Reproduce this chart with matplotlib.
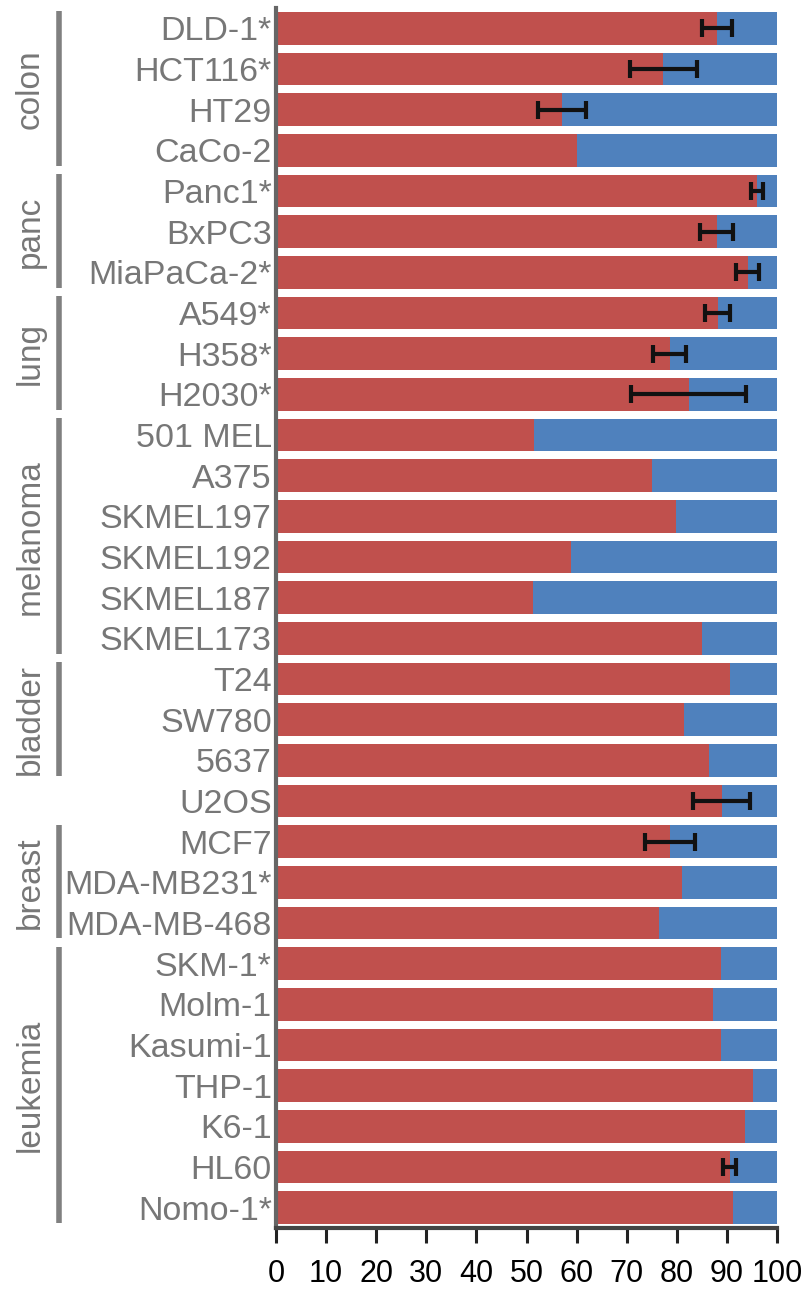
# Stacked horizontal bars: red fraction vs blue remainder per cell line
import matplotlib.pyplot as plt
import matplotlib.transforms as mtransforms

# cell lines, top to bottom
cell_lines = ['DLD-1*', 'HCT116*', 'HT29', 'CaCo-2',
              'Panc1*', 'BxPC3', 'MiaPaCa-2*',
              'A549*', 'H358*', 'H2030*',
              '501 MEL', 'A375', 'SKMEL197', 'SKMEL192', 'SKMEL187', 'SKMEL173',
              'T24', 'SW780', '5637',
              'U2OS',
              'MCF7', 'MDA-MB231*', 'MDA-MB-468',
              'SKM-1*', 'Molm-1', 'Kasumi-1', 'THP-1', 'K6-1', 'HL60', 'Nomo-1*']

# red share (%) for each line, blue is the rest up to 100
red_vals = [88.0, 77.3, 57.0, 60.0,
            96.0, 88.0, 94.2,
            88.2, 78.6, 82.4,
            51.5, 75.0, 79.8, 58.8, 51.3, 85.0,
            90.6, 81.5, 86.4,
            89.0,
            78.6, 81.0, 76.5,
            88.8, 87.3, 88.8, 95.2, 93.6, 90.6, 91.2]

# error bar half widths (0 = no error bar)
err_vals = [3.0, 6.7, 4.8, 0,
            1.2, 3.3, 2.3,
            2.5, 3.3, 11.5,
            0, 0, 0, 0, 0, 0,
            0, 0, 0,
            5.7,
            5.0, 0, 0,
            0, 0, 0, 0, 0, 1.3, 0]

# tissue groups: (label, first row, last row)
groups = [('colon', 0, 3), ('panc', 4, 6), ('lung', 7, 9),
          ('melanoma', 10, 15), ('bladder', 16, 18),
          ('breast', 20, 22), ('leukemia', 23, 29)]

red = '#C0504D'
blue = '#4F81BD'
label_gray = '#777777'

fig = plt.figure(figsize=(8.09, 12.98), dpi=100)
ax = fig.add_axes([276 / 809, 1 - 1228 / 1298, 501 / 809, 1220 / 1298])

rows = list(range(len(cell_lines)))
blue_vals = [100 - v for v in red_vals]

ax.barh(rows, red_vals, height=0.8, color=red, zorder=2)
ax.barh(rows, blue_vals, left=red_vals, height=0.8, color=blue, zorder=2)

# error bars only where there is one
for r, v, e in zip(rows, red_vals, err_vals):
    if e > 0:
        ax.errorbar(v, r, xerr=e, fmt='none', ecolor='#111111',
                    elinewidth=3, capsize=6.5, capthick=3, zorder=3)

ax.set_xlim(0, 100)
ax.set_ylim(29.5, -0.5)
ax.set_xticks(range(0, 101, 10))
ax.set_yticks(rows)
ax.set_yticklabels(cell_lines, fontsize=24.5, color=label_gray,
                   family='Liberation Sans')
ax.tick_params(axis='y', length=0, pad=3)
ax.tick_params(axis='x', length=11, width=2.2, color='#222222', pad=11)
for lbl in ax.get_xticklabels():
    lbl.set_family('Liberation Sans')
    lbl.set_fontsize(22)
    lbl.set_color('black')

for s in ['top', 'right']:
    ax.spines[s].set_visible(False)
ax.spines['left'].set_color('#666666')
ax.spines['left'].set_linewidth(3)
ax.spines['bottom'].set_color('#444444')
ax.spines['bottom'].set_linewidth(3)

# group brackets and labels on the far left
trans = mtransforms.blended_transform_factory(fig.transFigure, ax.transData)
for name, first, last in groups:
    ax.plot([59 / 809, 59 / 809], [first - 0.42, last + 0.38], color='#808080',
            lw=4, transform=trans, clip_on=False, solid_capstyle='butt')
    ax.text(30 / 809, (first + last) / 2, name, transform=trans, rotation=90,
            ha='center', va='center', fontsize=24, color=label_gray,
            family='Liberation Sans')

fig.savefig('out.png', dpi=100)
